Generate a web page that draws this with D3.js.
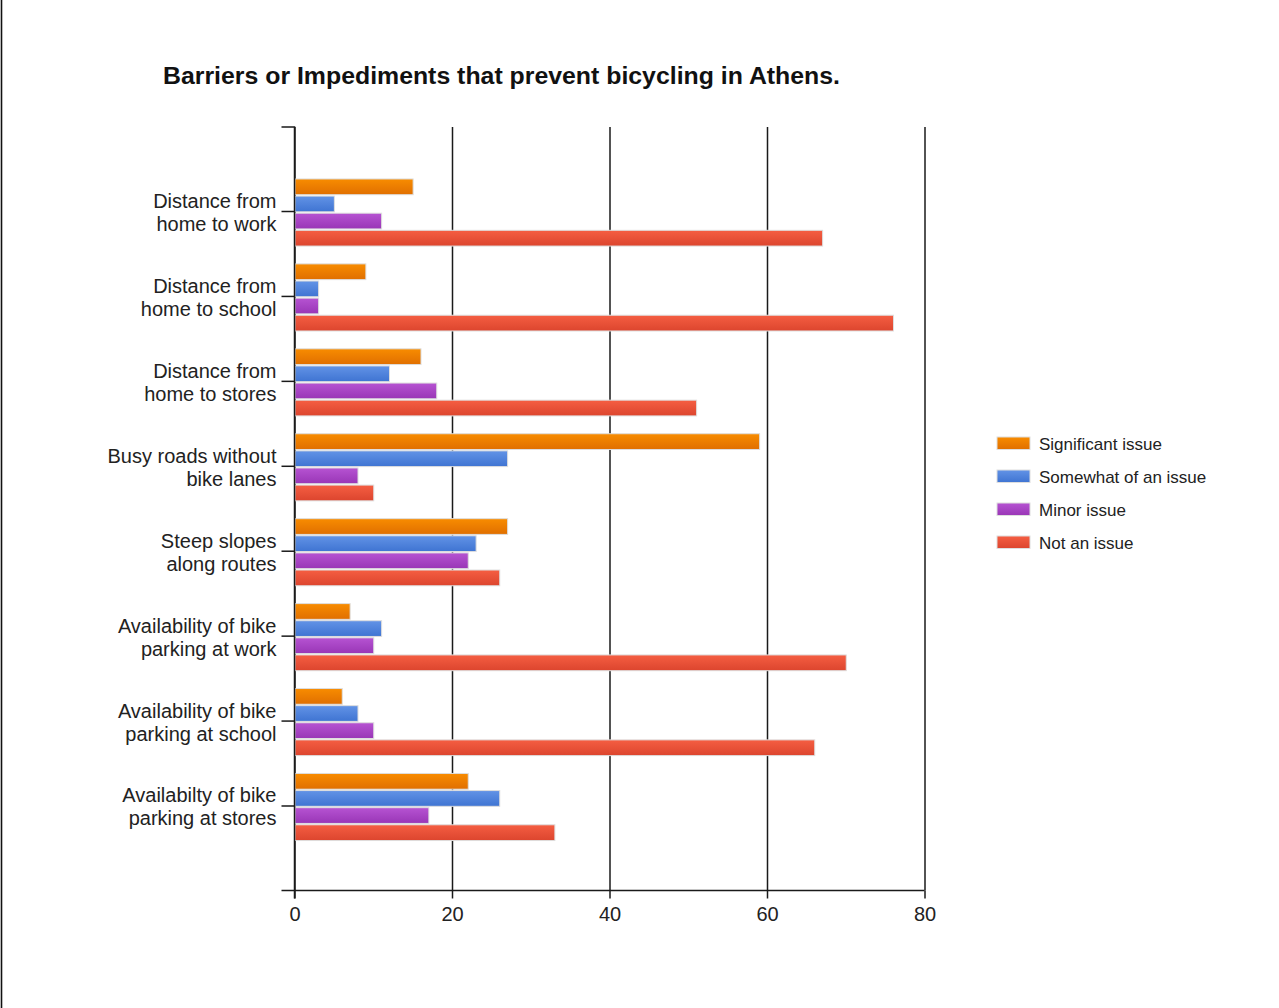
<!DOCTYPE html>
<html>
<head>
<meta charset="utf-8">
<script src="https://cdn.jsdelivr.net/npm/d3@7"></script>
<style>
  html, body { margin: 0; padding: 0; background: #fff; }
  svg { display: block; }
</style>
</head>
<body>
<svg id="chart" width="1279" height="1008"></svg>
<script>
const title = "Barriers or Impediments that prevent bicycling in Athens.";
const categories = [
  "Distance from\nhome to work",
  "Distance from\nhome to school",
  "Distance from\nhome to stores",
  "Busy roads without\nbike lanes",
  "Steep slopes\nalong routes",
  "Availability of bike\nparking at work",
  "Availability of bike\nparking at school",
  "Availabilty of bike\nparking at stores"
];
const seriesNames = ["Significant issue", "Somewhat of an issue", "Minor issue", "Not an issue"];
const significantIssue = [15, 9, 16, 59, 27, 7, 6, 22];
const somewhatIssue    = [5, 3, 12, 27, 23, 11, 8, 26];
const minorIssue       = [11, 3, 18, 8, 22, 10, 10, 17];
const notAnIssue       = [67, 76, 51, 10, 26, 70, 66, 33];
const xTicks = [0, 20, 40, 60, 80];
const seriesColors = [
  ["#f88c00", "#e06f00"],
  ["#6293e6", "#3f74d2"],
  ["#b653d2", "#9936b6"],
  ["#f55e42", "#dc452e"]
];

const seriesValues = [significantIssue, somewhatIssue, minorIssue, notAnIssue];
const data = categories.map((c, i) => ({
  category: c,
  values: seriesNames.map((s, j) => ({ series: s, idx: j, value: seriesValues[j][i] }))
}));

const svg = d3.select("#chart");
const FONT = "'Liberation Sans', Arial, sans-serif";

// left page border
svg.append("line").attr("x1", 1.5).attr("x2", 1.5).attr("y1", 0).attr("y2", 1008)
  .attr("stroke", "#111").attr("stroke-width", 1.6);

// gradients
const defs = svg.append("defs");
seriesColors.forEach((c, j) => {
  const g = defs.append("linearGradient").attr("id", "grad" + j)
    .attr("x1", 0).attr("y1", 0).attr("x2", 0).attr("y2", 1);
  g.append("stop").attr("offset", "0%").attr("stop-color", c[0]);
  g.append("stop").attr("offset", "100%").attr("stop-color", c[1]);
});

const plotTop = 127, plotBottom = 890.5;
const x = d3.scaleLinear().domain([0, 80]).range([294.5, 924.5]);
const y0 = d3.scaleBand().domain(categories).range([plotTop, plotBottom])
  .paddingInner(0.21).paddingOuter(0.6);
const y1 = d3.scaleBand().domain(seriesNames).range([0, y0.bandwidth()]).paddingInner(0.08);

// title
svg.append("text").attr("x", 163).attr("y", 84)
  .attr("font-family", FONT).attr("font-weight", "bold").attr("font-size", 23)
  .attr("textLength", 677).attr("lengthAdjust", "spacingAndGlyphs")
  .attr("fill", "#111").text(title);

// vertical gridlines
const grid = svg.append("g").attr("transform", `translate(0,${plotBottom})`)
  .call(d3.axisBottom(x).tickValues(xTicks).tickSizeInner(-(plotBottom - plotTop)).tickSizeOuter(0).tickFormat(""));
grid.select(".domain").remove();
grid.selectAll(".tick line").attr("stroke", "#1a1a1a").attr("stroke-width", 1.5);

// bars
const groups = svg.append("g").selectAll("g").data(data).join("g")
  .attr("transform", d => `translate(0,${y0(d.category) + 1})`);
groups.selectAll("rect").data(d => d.values).join("rect")
  .attr("x", x(0) + 0.5)
  .attr("y", d => y1(d.series))
  .attr("width", d => x(d.value) - x(0))
  .attr("height", y1.bandwidth())
  .attr("fill", d => `url(#grad${d.idx})`)
  .attr("stroke", "#dedede").attr("stroke-width", 1);

// x axis
const xAxis = svg.append("g").attr("transform", `translate(0,${plotBottom})`)
  .call(d3.axisBottom(x).tickValues(xTicks).tickSizeInner(8).tickSizeOuter(0).tickPadding(8));
xAxis.select(".domain").attr("stroke", "#1a1a1a").attr("stroke-width", 1.5)
  .attr("d", `M${x(0) - 13},0H${x(80)}`);
xAxis.selectAll(".tick line").attr("stroke", "#1a1a1a").attr("stroke-width", 1.5);
xAxis.selectAll(".tick text").attr("font-family", FONT).attr("font-size", 20)
  .attr("fill", "#222");

// y axis
const yAxis = svg.append("g").attr("transform", `translate(${x(0)},0)`)
  .call(d3.axisLeft(y0).tickSizeInner(13).tickSizeOuter(13).tickPadding(5));
yAxis.select(".domain").attr("stroke", "#1a1a1a").attr("stroke-width", 1.5)
  .attr("d", `M-13,${plotTop}H0V${plotBottom + 8}`);
yAxis.selectAll(".tick line").attr("stroke", "#1a1a1a").attr("stroke-width", 1.5);
yAxis.selectAll(".tick text").each(function(d) {
  const t = d3.select(this);
  const lines = d.split("\n");
  t.text(null).attr("dy", null).attr("font-family", FONT).attr("font-size", 20).attr("fill", "#222");
  t.append("tspan").attr("x", -18).attr("y", -3.5).text(lines[0]);
  t.append("tspan").attr("x", -18).attr("y", 19.5).text(lines[1]);
});

// legend
const legend = svg.append("g").attr("transform", "translate(997,437)");
const li = legend.selectAll("g").data(seriesNames).join("g")
  .attr("transform", (d, i) => `translate(0,${i * 33})`);
li.append("rect").attr("width", 33).attr("height", 12.5)
  .attr("fill", (d, i) => `url(#grad${i})`).attr("stroke", "#dedede").attr("stroke-width", 1);
li.append("text").attr("x", 42).attr("y", 12.5)
  .attr("font-family", FONT).attr("font-size", 17).attr("fill", "#222").text(d => d);
</script>
</body>
</html>
